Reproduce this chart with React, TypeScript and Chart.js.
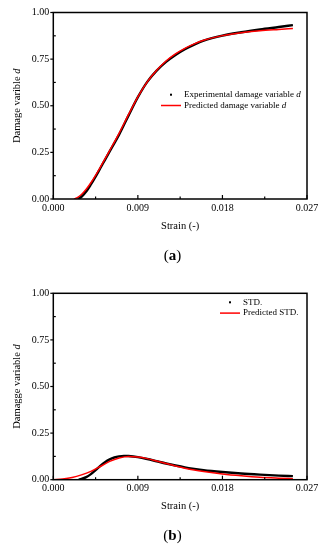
import React, { useEffect, useRef } from "react";
import { Chart, registerables } from "chart.js";
Chart.register(...registerables);

// ---- tick values ----
const X_TICKS = [0, 0.009, 0.018, 0.027];
const Y_TICKS = [0, 0.25, 0.5, 0.75, 1.0];

// ---- (a) damage variable ----
const A_EXP_STRAIN = [0.0026, 0.003, 0.0035, 0.004, 0.0045, 0.005, 0.0055, 0.006, 0.007, 0.008, 0.009, 0.010, 0.011, 0.012, 0.013, 0.014, 0.015, 0.016, 0.018, 0.020, 0.022, 0.024, 0.0255];
const A_EXP_D = [0, 0.012, 0.04, 0.078, 0.12, 0.165, 0.21, 0.255, 0.345, 0.447, 0.546, 0.628, 0.688, 0.735, 0.772, 0.803, 0.828, 0.849, 0.876, 0.894, 0.909, 0.922, 0.932];
const A_PRED_STRAIN = [0.0022, 0.0025, 0.003, 0.0035, 0.004, 0.0045, 0.005, 0.0055, 0.006, 0.007, 0.008, 0.009, 0.010, 0.011, 0.012, 0.013, 0.014, 0.015, 0.016, 0.018, 0.020, 0.022, 0.024, 0.0255];
const A_PRED_D = [0, 0.006, 0.024, 0.052, 0.087, 0.127, 0.17, 0.215, 0.26, 0.352, 0.452, 0.548, 0.628, 0.69, 0.74, 0.778, 0.808, 0.832, 0.851, 0.876, 0.892, 0.902, 0.909, 0.914];

// ---- (b) STD ----
const B_STD_STRAIN = [0.0027, 0.003, 0.0035, 0.004, 0.0045, 0.005, 0.0055, 0.006, 0.0065, 0.007, 0.0075, 0.008, 0.009, 0.010, 0.011, 0.012, 0.013, 0.014, 0.015, 0.016, 0.018, 0.020, 0.022, 0.024, 0.0255];
const B_STD_VAL = [0, 0.004, 0.014, 0.03, 0.051, 0.074, 0.094, 0.109, 0.119, 0.125, 0.128, 0.127, 0.121, 0.111, 0.099, 0.087, 0.076, 0.066, 0.058, 0.051, 0.041, 0.033, 0.027, 0.022, 0.019];
const B_PRED_STRAIN = [0, 0.001, 0.002, 0.003, 0.004, 0.005, 0.006, 0.007, 0.008, 0.009, 0.010, 0.011, 0.012, 0.013, 0.014, 0.015, 0.016, 0.018, 0.020, 0.022, 0.024, 0.0255];
const B_PRED_VAL = [0, 0.004, 0.012, 0.026, 0.045, 0.071, 0.098, 0.116, 0.124, 0.122, 0.113, 0.1, 0.087, 0.074, 0.062, 0.052, 0.044, 0.031, 0.021, 0.013, 0.008, 0.005];

const SERIF = "'Liberation Serif', 'Times New Roman', serif";

const toPts = (xs: number[], ys: number[]) => xs.map((x, i) => ({ x, y: ys[i] }));

type LegendItem = { label: string; italic?: string; kind: "dot" | "line"; color: string };

type PanelProps = {
  top: number;
  height: number;
  padTop: number;
  padBottom: number;
  xAxisH: number;
  yTitle: string;
  yTitleItalic: string;
  expLabel: LegendItem;
  predLabel: LegendItem;
  expPts: { x: number; y: number }[];
  predPts: { x: number; y: number }[];
  legendX: number;
  legendY: number;
};

function Panel(p: PanelProps) {
  const ref = useRef<HTMLCanvasElement | null>(null);
  useEffect(() => {
    if (!ref.current) return;
    const decor = {
      id: "decor",
      afterDatasetsDraw(chart: any) {
        const { ctx, chartArea: a, scales } = chart;
        const xs = scales.x, ys = scales.y;
        ctx.save();
        ctx.strokeStyle = "#000";
        ctx.lineWidth = 1.5;
        ctx.strokeRect(a.left, a.top, a.right - a.left, a.bottom - a.top);
        ctx.lineWidth = 1.2;
        for (let i = 0; i < X_TICKS.length; i++) {
          const v = X_TICKS[i];
          const px = xs.getPixelForValue(v);
          ctx.beginPath(); ctx.moveTo(px, a.bottom); ctx.lineTo(px, a.bottom - 4); ctx.stroke();
          if (i < X_TICKS.length - 1) {
            const m = xs.getPixelForValue((v + X_TICKS[i + 1]) / 2);
            ctx.beginPath(); ctx.moveTo(m, a.bottom); ctx.lineTo(m, a.bottom - 2.5); ctx.stroke();
          }
        }
        for (let i = 0; i < Y_TICKS.length; i++) {
          const v = Y_TICKS[i];
          const py = ys.getPixelForValue(v);
          ctx.beginPath(); ctx.moveTo(a.left - 3, py); ctx.lineTo(a.left, py); ctx.stroke();
          if (i < Y_TICKS.length - 1) {
            const m = ys.getPixelForValue((v + Y_TICKS[i + 1]) / 2);
            ctx.beginPath(); ctx.moveTo(a.left, m); ctx.lineTo(a.left + 2.5, m); ctx.stroke();
          }
        }
        const items = [p.expLabel, p.predLabel];
        const tx = a.left + p.legendX;
        items.forEach((it, k) => {
          const cy = a.top + p.legendY + k * 10.8;
          if (it.kind === "dot") {
            ctx.fillStyle = it.color;
            ctx.fillRect(tx - 14, cy - 1, 2, 2);
          } else {
            ctx.strokeStyle = it.color;
            ctx.lineWidth = 1.5;
            ctx.beginPath(); ctx.moveTo(tx - 23, cy); ctx.lineTo(tx - 3, cy); ctx.stroke();
          }
          ctx.fillStyle = "#000";
          ctx.textBaseline = "middle";
          ctx.textAlign = "left";
          ctx.font = `9px ${SERIF}`;
          ctx.fillText(it.label, tx, cy);
          if (it.italic) {
            const w = ctx.measureText(it.label).width;
            ctx.font = `italic 9px ${SERIF}`;
            ctx.fillText(it.italic, tx + w, cy);
          }
        });
        const f1 = `10.5px ${SERIF}`;
        const f2 = `italic 10.5px ${SERIF}`;
        ctx.font = f1;
        const w1 = ctx.measureText(p.yTitle).width;
        ctx.font = f2;
        const w2 = ctx.measureText(p.yTitleItalic).width;
        const cyT = (a.top + a.bottom) / 2;
        ctx.translate(17.5, cyT);
        ctx.rotate(-Math.PI / 2);
        ctx.textBaseline = "middle";
        ctx.textAlign = "left";
        ctx.fillStyle = "#000";
        ctx.font = f1;
        ctx.fillText(p.yTitle, -(w1 + w2) / 2, 0);
        ctx.font = f2;
        ctx.fillText(p.yTitleItalic, -(w1 + w2) / 2 + w1, 0);
        ctx.restore();
      },
    };
    const chart = new Chart(ref.current, {
      type: "scatter",
      data: {
        datasets: [
          {
            label: p.predLabel.label,
            data: p.predPts,
            showLine: true,
            borderColor: "#ff0000",
            borderWidth: 1.5,
            pointRadius: 0,
            cubicInterpolationMode: "monotone",
            order: 0,
          },
          {
            label: p.expLabel.label,
            data: p.expPts,
            showLine: true,
            borderColor: "#000000",
            borderWidth: 2.4,
            pointRadius: 0,
            cubicInterpolationMode: "monotone",
            order: 1,
          },
        ],
      },
      options: {
        responsive: false,
        animation: false,
        layout: { padding: { left: 0, right: 16, top: p.padTop, bottom: p.padBottom } },
        plugins: { legend: { display: false }, tooltip: { enabled: false } },
        scales: {
          x: {
            type: "linear",
            min: 0,
            max: 0.027,
            afterBuildTicks: (s: any) => { s.ticks = X_TICKS.map((v) => ({ value: v })); },
            afterFit: (s: any) => { s.height = p.xAxisH; },
            grid: { display: false, drawTicks: false },
            border: { display: false },
            ticks: {
              color: "#000",
              font: { family: SERIF, size: 10 },
              padding: 3,
              maxRotation: 0,
              autoSkip: false,
              callback: (v: any) => Number(v).toFixed(3),
            },
            title: {
              display: true,
              text: "Strain (-)",
              color: "#000",
              font: { family: SERIF, size: 10.5 },
              padding: { top: 0, bottom: 0 },
            },
          },
          y: {
            type: "linear",
            min: 0,
            max: 1,
            afterBuildTicks: (s: any) => { s.ticks = Y_TICKS.map((v) => ({ value: v })); },
            afterFit: (s: any) => { s.width = 53.3; },
            grid: { display: false, drawTicks: false },
            border: { display: false },
            ticks: {
              color: "#000",
              font: { family: SERIF, size: 10 },
              padding: 4,
              autoSkip: false,
              callback: (v: any) => Number(v).toFixed(2),
            },
          },
        },
      },
      plugins: [decor],
    } as any);
    return () => chart.destroy();
  }, []);
  return (
    <canvas
      ref={ref}
      width={323}
      height={p.height}
      style={{ position: "absolute", left: 0, top: p.top, width: 323, height: p.height, display: "block" }}
    />
  );
}

const capStyle = (y: number): React.CSSProperties => ({
  position: "absolute",
  left: 172.5,
  top: y,
  transform: "translate(-50%, -50%)",
  fontFamily: SERIF,
  fontSize: 15,
  color: "#000",
  whiteSpace: "nowrap",
  lineHeight: 1,
});

export default function App() {
  return (
    <div style={{ position: "absolute", left: 0, top: 0, width: 323, height: 550, background: "#fff" }}>
      <Panel
        top={0}
        height={270}
        padTop={12.5}
        padBottom={37}
        xAxisH={34}
        yTitle="Damage varible "
        yTitleItalic="d"
        expLabel={{ label: "Experimental damage variable ", italic: "d", kind: "dot", color: "#000" }}
        predLabel={{ label: "Predicted damage variable ", italic: "d", kind: "line", color: "#ff0000" }}
        expPts={toPts(A_EXP_STRAIN, A_EXP_D)}
        predPts={toPts(A_PRED_STRAIN, A_PRED_D)}
        legendX={130.7}
        legendY={82.2}
      />
      <div style={capStyle(255)}>(<b>a</b>)</div>
      <Panel
        top={270}
        height={280}
        padTop={23.3}
        padBottom={37}
        xAxisH={33.3}
        yTitle="Damagge variable "
        yTitleItalic="d"
        expLabel={{ label: "STD.", kind: "dot", color: "#000" }}
        predLabel={{ label: "Predicted STD.", kind: "line", color: "#ff0000" }}
        expPts={toPts(B_STD_STRAIN, B_STD_VAL)}
        predPts={toPts(B_PRED_STRAIN, B_PRED_VAL)}
        legendX={189.7}
        legendY={9}
      />
      <div style={capStyle(535)}>(<b>b</b>)</div>
    </div>
  );
}
